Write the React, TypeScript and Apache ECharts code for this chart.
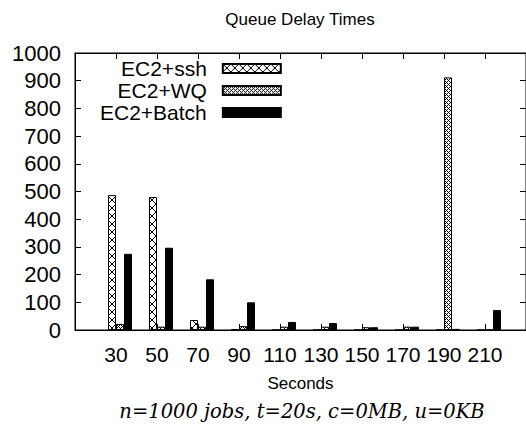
import React, { useEffect, useRef } from 'react';
import * as echarts from 'echarts';

const categories = [30, 50, 70, 90, 110, 130, 150, 170, 190, 210];
const seriesNames = ['EC2+ssh', 'EC2+WQ', 'EC2+Batch'];
const sshValues = [487, 480, 36, 3, 0, 0, 0, 0, 0, 0];
const wqValues = [22, 12, 12, 14, 12, 12, 10, 12, 912, 0];
const batchValues = [275, 297, 183, 100, 29, 25, 10, 12, 4, 72];
const titleText = 'Queue Delay Times';
const xAxisName = 'Seconds';
const captionText = 'n=1000 jobs, t=20s, c=0MB, u=0KB';

const SANS = "'Liberation Sans', Arial, Helvetica, sans-serif";
const SERIF = "'DejaVu Serif', 'Liberation Serif', serif";

function makePattern(size: number, on: (x: number, y: number) => boolean) {
  const c = document.createElement('canvas');
  c.width = size;
  c.height = size;
  const ctx = c.getContext('2d')!;
  ctx.fillStyle = '#ffffff';
  ctx.fillRect(0, 0, size, size);
  ctx.fillStyle = '#000000';
  for (let y = 0; y < size; y++) {
    for (let x = 0; x < size; x++) {
      if (on(x, y)) ctx.fillRect(x, y, 1, 1);
    }
  }
  return { image: c.toDataURL(), repeat: 'repeat', imageWidth: size, imageHeight: size } as any;
}

export default function App() {
  const ref = useRef<HTMLDivElement>(null);
  useEffect(() => {
    document.body.style.margin = '0';
    const chart = echarts.init(ref.current!, null, { renderer: 'svg' });
    const sshPattern = makePattern(8, (x, y) => x === y || x + y === 7);
    const wqPattern = makePattern(4, (x, y) => (x + y) % 4 === 0 || (x - y + 4) % 4 === 0);
    const pair = (vals: number[]) => categories.map((c, i) => [c, vals[i]]);
    const xCommon = {
      type: 'value' as const,
      min: 10,
      max: 230,
      interval: 20,
      splitLine: { show: false },
      axisLine: { show: true, onZero: false, lineStyle: { color: '#000', width: 1 } },
      axisTick: { show: true, inside: true, length: 6, lineStyle: { color: '#000', width: 1 } },
    };
    const yCommon = {
      type: 'value' as const,
      min: 0,
      max: 1000,
      interval: 100,
      splitLine: { show: false },
      axisLine: { show: true, onZero: false, lineStyle: { color: '#000', width: 1 } },
      axisTick: { show: true, inside: true, length: 6, lineStyle: { color: '#000', width: 1 } },
    };
    const option: any = {
      animation: false,
      backgroundColor: '#ffffff',
      title: [
        {
          text: titleText,
          left: 300,
          top: 11,
          textAlign: 'center',
          padding: 0,
          textStyle: { fontFamily: SANS, fontSize: 17, fontWeight: 'normal', color: '#000' },
        },
        {
          text: captionText,
          left: 302,
          top: 401,
          textAlign: 'center',
          padding: 0,
          textStyle: { fontFamily: SERIF, fontSize: 19.5, fontStyle: 'italic', fontWeight: 'normal', color: '#000' },
        },
      ],
      legend: {
        data: seriesNames,
        orient: 'vertical',
        align: 'right',
        left: 100,
        top: 58,
        padding: 0,
        itemGap: 1,
        itemWidth: 58,
        itemHeight: 9,
        icon: 'rect',
        selectedMode: false,
        textStyle: { fontFamily: SANS, fontSize: 21, color: '#000', lineHeight: 21, padding: [0, 11, 0, 0] },
      },
      grid: { left: 75, right: -4, top: 53, bottom: 104, show: true, borderColor: '#000', borderWidth: 1 },
      xAxis: [
        {
          ...xCommon,
          position: 'bottom',
          name: xAxisName,
          nameLocation: 'middle',
          nameGap: 45,
          nameTextStyle: { fontFamily: SANS, fontSize: 17, color: '#000' },
          axisLabel: {
            color: '#000',
            fontFamily: SANS,
            fontSize: 21,
            margin: 14,
            showMinLabel: false,
            showMaxLabel: false,
            formatter: (v: number) => (categories.indexOf(v) >= 0 ? String(v) : ''),
          },
        },
        { ...xCommon, position: 'top', axisLabel: { show: false } },
      ],
      yAxis: [
        {
          ...yCommon,
          position: 'left',
          axisLabel: { color: '#000', fontFamily: SANS, fontSize: 22, margin: 14, formatter: (v: number) => String(v) },
        },
        { ...yCommon, position: 'right', axisLabel: { show: false } },
      ],
      series: [
        {
          type: 'bar',
          name: 'gap',
          data: pair(categories.map(() => 0)),
          barWidth: 8,
          barGap: '0%',
          silent: true,
          itemStyle: { color: 'rgba(0,0,0,0)' },
        },
        {
          type: 'bar',
          name: seriesNames[0],
          data: pair(sshValues),
          barWidth: 8,
          barGap: '0%',
          itemStyle: { color: sshPattern, borderColor: '#000', borderWidth: 1 },
        },
        {
          type: 'bar',
          name: seriesNames[1],
          data: pair(wqValues),
          barWidth: 8,
          barGap: '0%',
          itemStyle: { color: wqPattern, borderColor: '#000', borderWidth: 1 },
        },
        {
          type: 'bar',
          name: seriesNames[2],
          data: pair(batchValues),
          barWidth: 8,
          barGap: '0%',
          itemStyle: { color: '#000', borderColor: '#000', borderWidth: 1 },
        },
      ],
    };
    chart.setOption(option);
    return () => chart.dispose();
  }, []);
  return <div ref={ref} style={{ width: 526, height: 434 }} />;
}
